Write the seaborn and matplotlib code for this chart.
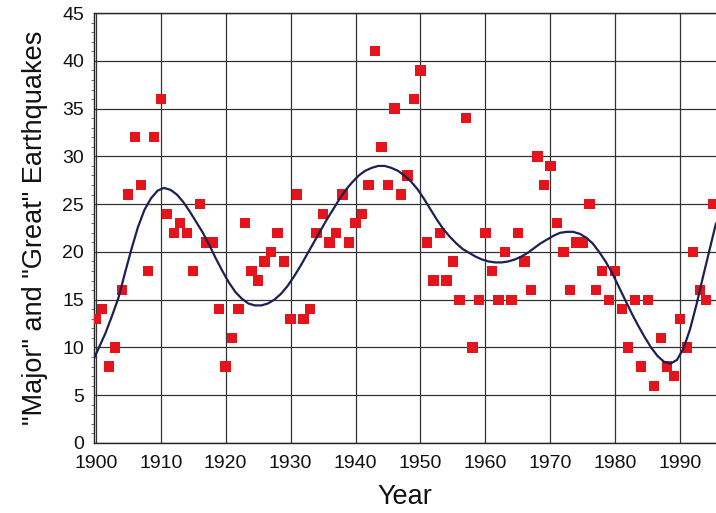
"""Major and great earthquakes per year, 1900-1995, with smoothed trend."""

import matplotlib
matplotlib.use("Agg")
import matplotlib.pyplot as plt
import pandas as pd
import seaborn as sns
from matplotlib.ticker import MultipleLocator

# Yearly counts
years = list(range(1900, 1996))
counts = [
    13, 14, 8, 10, 16, 26, 32, 27, 18, 32,
    36, 24, 22, 23, 22, 18, 25, 21, 21, 14,
    8, 11, 14, 23, 18, 17, 19, 20, 22, 19,
    13, 26, 13, 14, 22, 24, 21, 22, 26, 21,
    23, 24, 27, 41, 31, 27, 35, 26, 28, 36,
    39, 21, 17, 22, 17, 19, 15, 34, 10, 15,
    22, 18, 15, 20, 15, 22, 19, 16, 30, 27,
    29, 23, 20, 16, 21, 21, 25, 16, 18, 15,
    18, 14, 10, 15, 8, 15, 6, 11, 8, 7,
    13, 10, 20, 16, 15, 25,
]

# Smoothed trend curve at mid-years
curve_years = [1899.7] + [y + 0.5 for y in range(1900, 1996)]
curve_values = [
    8.8,
    10.0, 11.5, 13.3, 15.2, 17.8, 20.3, 22.6, 24.4, 25.6, 26.4,
    26.7, 26.5, 26.0, 25.2, 24.2, 23.1, 22.0, 20.7, 19.3, 18.0,
    16.8, 15.8, 15.1, 14.6, 14.4, 14.4, 14.6, 15.0, 15.6, 16.4,
    17.4, 18.5, 19.7, 20.9, 22.1, 23.3, 24.4, 25.5, 26.5, 27.3,
    28.0, 28.5, 28.8, 29.0, 29.0, 28.8, 28.5, 28.0, 27.4, 26.6,
    25.6, 24.5, 23.4, 22.4, 21.6, 20.9, 20.3, 19.9, 19.5, 19.2,
    19.0, 18.9, 18.9, 19.0, 19.2, 19.5, 19.9, 20.4, 20.9, 21.3,
    21.7, 22.0, 22.1, 22.1, 21.9, 21.5, 20.9, 20.0, 19.0, 17.8,
    16.4, 15.0, 13.6, 12.3, 11.1, 10.0, 9.1, 8.5, 8.3, 8.7,
    9.9, 11.9, 14.5, 17.4, 20.2, 23.0,
]

points = pd.DataFrame({"year": years, "count": counts})
trend = pd.DataFrame({"year": curve_years, "count": curve_values})

sns.set_theme(style="white")
plt.rcParams["font.family"] = ["Liberation Sans", "DejaVu Sans"]

fig = plt.figure(figsize=(7.16, 5.13), dpi=100)
ax = fig.add_axes([0.131, 0.1365, 0.869, 0.838])

sns.scatterplot(
    data=points, x="year", y="count",
    marker="s", s=55, color="#e3141b", edgecolor="none",
    zorder=3, ax=ax,
)
sns.lineplot(
    data=trend, x="year", y="count",
    color="#1c2152", linewidth=1.6, zorder=4, ax=ax,
)

ax.set_xlim(1899.7, 1995.5)
ax.set_ylim(0, 45)
ax.xaxis.set_major_locator(MultipleLocator(10))
ax.yaxis.set_major_locator(MultipleLocator(5))
ax.yaxis.set_minor_locator(MultipleLocator(1))

ax.grid(True, which="major", color="#333333", linewidth=0.9)
ax.set_axisbelow(True)

for side in ["left", "bottom", "top"]:
    ax.spines[side].set_visible(True)
    ax.spines[side].set_color("#222222")
    ax.spines[side].set_linewidth(1.0)
ax.spines["right"].set_visible(False)

ax.tick_params(axis="both", which="major", labelsize=14, colors="#111111",
               direction="out", length=5, width=0.8)
ax.tick_params(axis="y", which="minor", direction="out", length=2.5,
               width=0.6, left=True, colors="#555555")
ax.tick_params(axis="x", which="major", pad=4)
ax.tick_params(axis="y", which="major", pad=2)

ax.set_xlabel("Year", fontsize=19.5, labelpad=8, color="#111111")
ax.set_ylabel('"Major" and "Great" Earthquakes', fontsize=19.5,
              labelpad=10, color="#111111")

fig.savefig("out.png", dpi=100)
